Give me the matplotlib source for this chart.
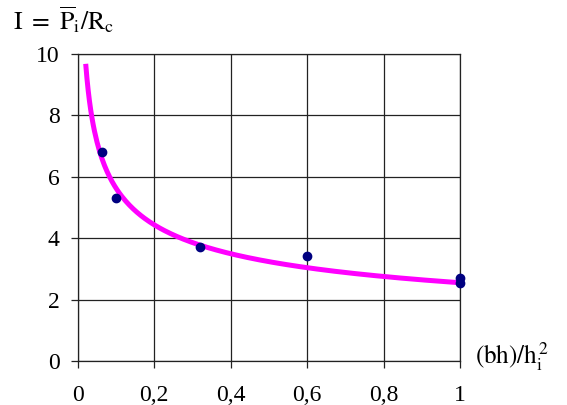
import numpy as np
import matplotlib
matplotlib.use('Agg')
import matplotlib.pyplot as plt

plt.rcParams['font.family'] = ['Liberation Serif', 'DejaVu Serif']
plt.rcParams['mathtext.fontset'] = 'stix'

# Punkty pomiarowe
x_vals = [0.0625, 0.1, 0.32, 0.6, 1.0, 1.0]
y_vals = [6.82, 5.30, 3.70, 3.43, 2.69, 2.53]

# Linia trendu (potegowa) y = a * x^b
trend_a = 2.55
trend_b = -0.344
trend_x_start = 0.0207
trend_x_end = 1.0

x_ticks = [0, 0.2, 0.4, 0.6, 0.8, 1.0]
x_tick_labels = ['0', '0,2', '0,4', '0,6', '0,8', '1']
y_ticks = [0, 2, 4, 6, 8, 10]
y_tick_labels = ['0', '2', '4', '6', '8', '10']

fig = plt.figure(figsize=(5.67, 4.05), dpi=100)
ax = fig.add_axes([0.1372, 0.1086, 0.8113 - 0.1372, 0.8667 - 0.1086])

tx = np.linspace(trend_x_start, trend_x_end, 300)
ax.plot(tx, trend_a * tx ** trend_b, color='#FF00FF', lw=3.6,
        solid_capstyle='butt', zorder=3)
ax.plot(x_vals, y_vals, 'o', color='#000080', ms=6, zorder=4, clip_on=False)

ax.set_xlim(0, 1)
ax.set_ylim(0, 10)
ax.set_xticks(x_ticks)
ax.set_xticklabels(x_tick_labels)
ax.set_yticks(y_ticks)
ax.set_yticklabels(y_tick_labels)
ax.grid(True, color='#222222', lw=0.9)
ax.set_axisbelow(True)
for s in ax.spines.values():
    s.set_color('#222222')
    s.set_linewidth(0.9)
ax.tick_params(axis='both', direction='out', length=5, width=0.9,
               color='#222222', labelsize=17)
ax.tick_params(axis='x', pad=12.5)
ax.tick_params(axis='y', pad=8)

fig.text(0.023, 1 - 29 / 405, r'$\mathrm{I\ =\ \overline{P}_i/R_c}$',
         fontsize=18.5, va='baseline', ha='left')
ax.text(1.04, 0.015, r'$\mathrm{(bh)/h_i^{\,2}}$', transform=ax.transAxes,
        fontsize=18, va='center', ha='left')

fig.savefig('out.png', dpi=100)
